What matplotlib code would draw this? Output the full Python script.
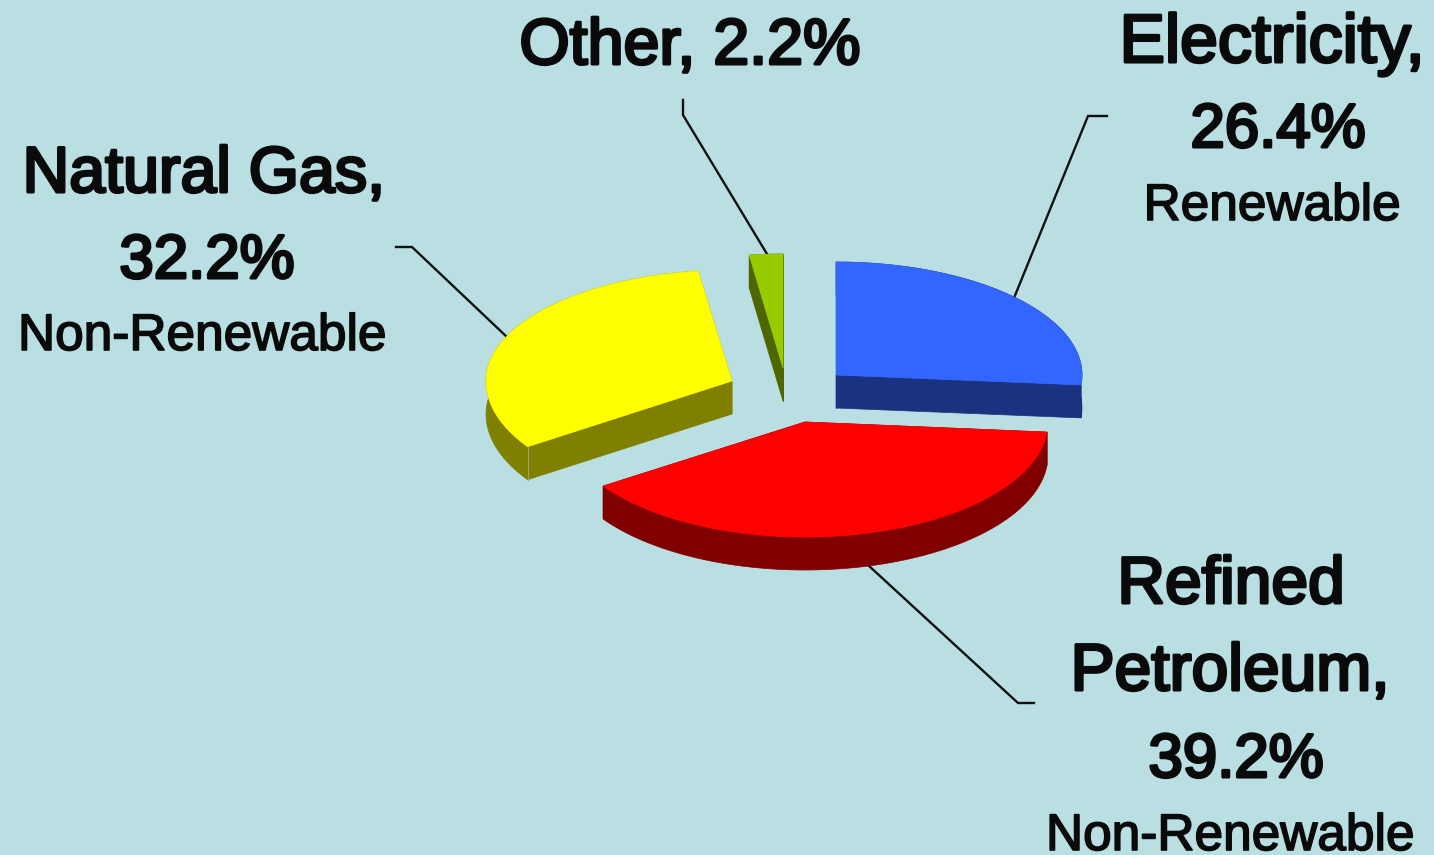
import numpy as np
import matplotlib
matplotlib.use("Agg")
import matplotlib.pyplot as plt
import matplotlib.patheffects as pe

# shares of the pie, clockwise from 12 o'clock
categories = ['Electricity', 'Refined Petroleum', 'Natural Gas', 'Other']
shares = [26.4, 39.2, 32.2, 2.2]
kinds = ['Renewable', 'Non-Renewable', 'Non-Renewable', '']

top_colors = ['#3366FF', '#FF0000', '#FFFF00', '#99CC00']
side_colors = ['#1A3380', '#800000', '#808000', '#4D6600']

# where each exploded slice has its tip, and its squashed radii
tips_x = [836, 805, 732, 783]
tips_y = [375, 422, 381, 368]
radii_x = [246, 243, 246, 245]
radii_back = [113, 115, 111, 114]
radii_front = [113, 115, 118, 114]
depth = 33

BG = '#B9DFE3'

fig = plt.figure(figsize=(14.34, 8.55), dpi=100, facecolor=BG)
ax = fig.add_axes([0, 0, 1, 1])
ax.set_xlim(0, 1434)
ax.set_ylim(855, 0)
ax.axis('off')


def draw_slice(start, stop, cx, cy, rx, ry_back, ry_front, top, side):
    angles = np.radians(np.linspace(start, stop, 80))
    cosines = np.cos(angles)
    arc_x = cx + rx * np.sin(angles)
    arc_y = cy - np.where(cosines > 0, ry_back, ry_front) * cosines
    # side walls first, the top face then hides what is at the back
    ax.fill(np.r_[arc_x, arc_x[::-1]], np.r_[arc_y, arc_y[::-1] + depth],
            color=side, lw=0.5, zorder=2)
    for k in [0, -1]:
        ax.fill([cx, arc_x[k], arc_x[k], cx],
                [cy, arc_y[k], arc_y[k] + depth, cy + depth],
                color=side, lw=0.5, zorder=2)
    ax.fill(np.r_[cx, arc_x], np.r_[cy, arc_y], color=top, lw=0.5, zorder=3)
    return arc_x, arc_y


edges = np.r_[0, np.cumsum(shares)] / np.sum(shares) * 360
for i in [3, 2, 0, 1]:
    arc_x, arc_y = draw_slice(edges[i], edges[i + 1], tips_x[i], tips_y[i],
                              radii_x[i], radii_back[i], radii_front[i],
                              top_colors[i], side_colors[i])
    if categories[i] == 'Natural Gas':
        # faint seam on the corner of the yellow slice
        ax.plot([arc_x[0], arc_x[0]], [arc_y[0], arc_y[0] + depth],
                color='#A0A070', lw=0.8, zorder=4)

# leader lines
leaders = [
    ([1107, 1088, 1014], [116, 116, 298]),
    ([1034, 1018, 868], [703, 703, 565]),
    ([396, 412, 508], [247, 247, 338]),
    ([683, 683, 767], [100, 115, 254]),
]
for lx, ly in leaders:
    ax.plot(lx, ly, color='#111111', lw=1.7, zorder=1, solid_joinstyle='miter')


def label(x, y, s, size=46.5, stroke=2.2):
    ax.text(x, y, s, ha='center', va='baseline', fontsize=size,
            family='Liberation Sans', color='#0A0A0A', zorder=5,
            path_effects=[pe.withStroke(linewidth=stroke, foreground='#0A0A0A')])


pct = ['{}%'.format(v) for v in shares]
label(690, 64, 'Other, ' + pct[3])

label(1272, 62, 'Electricity,', size=49)
label(1278, 147, pct[0], size=44.5)
label(1272, 220, kinds[0], size=37, stroke=1.2)

label(204, 192, 'Natural Gas,')
label(207, 278, pct[2], size=44.5)
label(202, 350, kinds[2], size=37, stroke=1.2)

label(1231, 603, 'Refined', size=47.5)
label(1230, 690, 'Petroleum,', size=47.5)
label(1236, 777, pct[1], size=44.5)
label(1230, 850, kinds[1], size=37, stroke=1.2)

fig.savefig('out.png', dpi=100, facecolor=BG)
